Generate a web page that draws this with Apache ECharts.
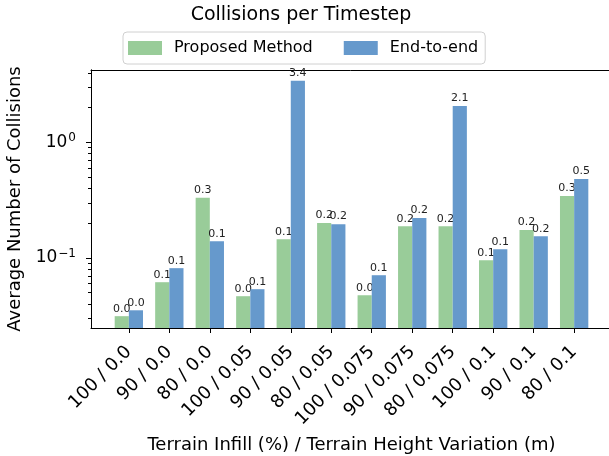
<!DOCTYPE html>
<html>
<head>
<meta charset="utf-8">
<script src="https://cdn.jsdelivr.net/npm/echarts@6/dist/echarts.min.js"></script>
<style>html,body{margin:0;padding:0;background:#fff}#c{width:609px;height:456px}</style>
</head>
<body>
<div id="c"></div>
<script>
const categories = ['100 / 0.0','90 / 0.0','80 / 0.0','100 / 0.05','90 / 0.05','80 / 0.05','100 / 0.075','90 / 0.075','80 / 0.075','100 / 0.1','90 / 0.1','80 / 0.1'];
const proposed = [0.0313, 0.0616, 0.331, 0.0466, 0.145, 0.200, 0.0475, 0.188, 0.188, 0.0955, 0.174, 0.343];
const endToEnd = [0.0352, 0.0815, 0.1395, 0.0536, 3.42, 0.196, 0.0708, 0.221, 2.06, 0.119, 0.154, 0.481];
const majorTicks = [0.1, 1];
const minorTicks = [0.03,0.04,0.05,0.06,0.07,0.08,0.09,0.2,0.3,0.4,0.5,0.6,0.7,0.8,0.9,2,3,4];
const yMin = 0.02473, yMax = 4.23;
const xMin = -0.935, xMax = 11.935;

const FONT = 'DejaVu Sans';
const COLORS = ['#99cc99', '#6699cc'];
const BAR_W = 0.35;
const idx = categories.map((_, i) => i);
const chart = echarts.init(document.getElementById('c'), null, {renderer: 'canvas'});

function renderBar(params, api) {
  const x = api.value(0), v = api.value(1);
  const off = params.seriesIndex === 0 ? -BAR_W : 0;
  const top = api.coord([x + off, v]);
  const base = api.coord([x + off + BAR_W, yMin]);
  return {
    type: 'group',
    children: [{
      type: 'rect',
      shape: {x: top[0], y: top[1], width: base[0] - top[0], height: base[1] - top[1]},
      style: {fill: COLORS[params.seriesIndex]}
    }, {
      type: 'text',
      x: (top[0] + base[0]) / 2, y: top[1] - 2,
      style: {text: v.toFixed(1), textAlign: 'center', textVerticalAlign: 'bottom',
        fontSize: 11, fontFamily: FONT, fill: '#222'}
    }]
  };
}

chart.setOption({
  animation: false,
  textStyle: {fontFamily: FONT},
  title: {
    text: 'Collisions per Timestep', left: 301, top: 6, textAlign: 'center', padding: 0,
    textStyle: {fontSize: 19, fontWeight: 'normal', color: '#000', fontFamily: FONT}
  },
  legend: {
    left: 123, top: 32, itemWidth: 34, itemHeight: 14, itemGap: 31,
    padding: [8, 7, 8, 5], borderColor: '#d0d0d0', borderWidth: 1, borderRadius: 4,
    icon: 'rect',
    textStyle: {fontSize: 16, fontFamily: FONT, color: '#000', padding: [0, 0, 0, 7]},
    data: ['Proposed Method', 'End-to-end']
  },
  grid: {left: 91, right: -3, top: 70, bottom: 128, show: false,
    containLabel: false, outerBoundsMode: 'none'},
  xAxis: [{
    type: 'value', min: xMin, max: xMax,
    name: 'Terrain Infill (%) / Terrain Height Variation (m)', nameLocation: 'middle', nameGap: 108,
    nameTextStyle: {fontSize: 18, fontFamily: FONT, color: '#000'},
    axisLine: {show: true, onZero: false, lineStyle: {color: '#000', width: 1}},
    axisTick: {show: true, customValues: idx, length: 5, lineStyle: {color: '#000'}},
    axisLabel: {customValues: idx, rotate: 45, fontSize: 18, fontFamily: FONT, color: '#000', margin: 21,
      formatter: v => categories[Math.round(v)]},
    splitLine: {show: false}
  }, {
    type: 'value', min: xMin, max: xMax, position: 'top',
    axisLine: {show: true, onZero: false, lineStyle: {color: '#000', width: 1}},
    axisTick: {show: false}, axisLabel: {show: false}, splitLine: {show: false}
  }],
  yAxis: [{
    type: 'log', logBase: 10, min: yMin, max: yMax,
    name: 'Average Number of Collisions', nameLocation: 'middle', nameGap: 57, nameRotate: 90,
    nameTextStyle: {fontSize: 18, fontFamily: FONT, color: '#000'},
    axisLine: {show: true, onZero: false, lineStyle: {color: '#000', width: 1}},
    axisTick: {show: true, customValues: majorTicks, length: 5, lineStyle: {color: '#000'}},
    axisLabel: {customValues: majorTicks, margin: 15, color: '#000',
      formatter: v => { const e = Math.round(Math.log10(v)); return '{b|10}{s|' + (e < 0 ? '\u2212' + (-e) : e) + '}'; },
      rich: {b: {fontSize: 17, fontFamily: FONT, color: '#000'}, s: {fontSize: 12, fontFamily: FONT, color: '#000', padding: [0, 0, 8, 1]}}},
    splitLine: {show: false}
  }, {
    type: 'log', logBase: 10, min: yMin, max: yMax, position: 'left',
    axisLine: {show: true, onZero: false, lineStyle: {color: '#000', width: 1}},
    axisTick: {show: true, customValues: minorTicks, length: 3, lineStyle: {color: '#000'}},
    axisLabel: {show: false},
    splitLine: {show: false}
  }],
  series: [{
    name: 'Proposed Method', type: 'custom', xAxisIndex: 0, yAxisIndex: 0, renderItem: renderBar,
    itemStyle: {color: COLORS[0]}, encode: {x: 0, y: 1},
    data: proposed.map((v, i) => [i, v])
  }, {
    name: 'End-to-end', type: 'custom', xAxisIndex: 0, yAxisIndex: 0, renderItem: renderBar,
    itemStyle: {color: COLORS[1]}, encode: {x: 0, y: 1},
    data: endToEnd.map((v, i) => [i, v])
  }]
});
</script>
</body>
</html>
